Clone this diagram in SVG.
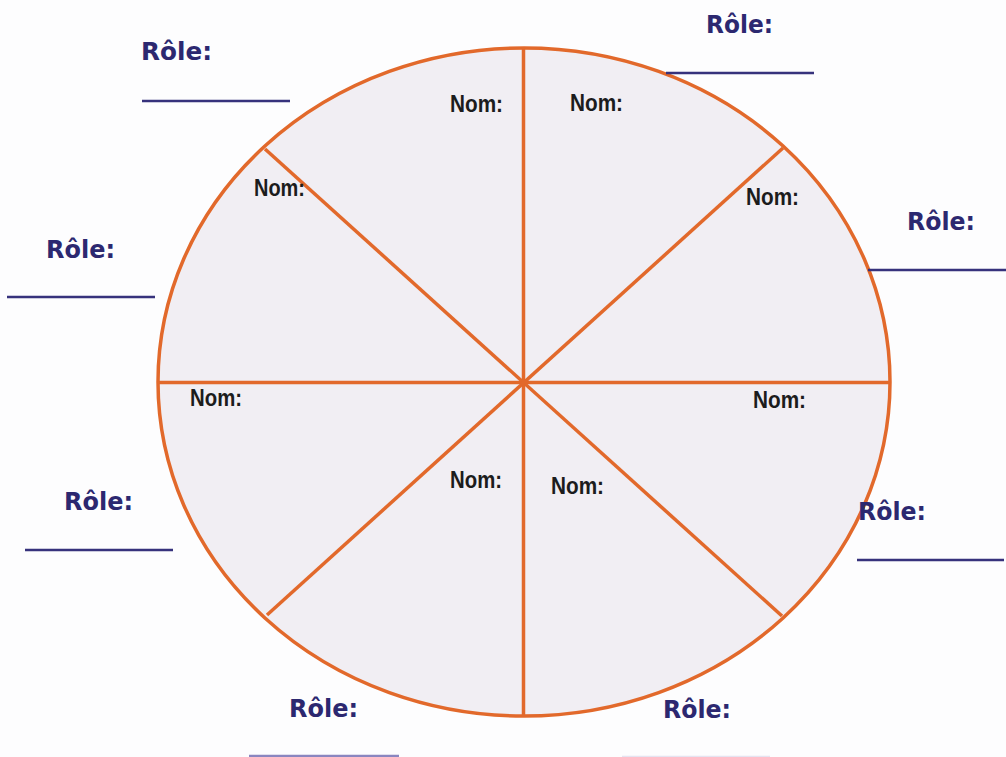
<svg xmlns="http://www.w3.org/2000/svg" width="1006" height="757" viewBox="0 0 1006 757">
  <style>
    .bg { fill: #fdfdfe; }
    .wheel { fill: #f1eef3; stroke: #e2692b; stroke-width: 3.5; }
    .spoke { stroke: #e2692b; stroke-width: 3.5; fill: none; }
    .nom { font-family: "Liberation Sans", Arial, sans-serif; font-weight: bold; font-size: 24px; fill: #1c1c1c; }
    .role { font-family: "DejaVu Sans", "Liberation Sans", sans-serif; font-weight: bold; font-size: 24px; fill: #2c2870; }
    .rline { stroke: #36327c; stroke-width: 2.5; }
    .rline-faint { stroke: #8a86c0; stroke-width: 2.5; }
  </style>
  <rect class="bg" x="0" y="0" width="1006" height="757"/>

  <g id="wheel">
    <ellipse class="wheel" cx="524" cy="382" rx="366" ry="334"/>
  </g>

  <g id="connectors">
    <line class="spoke" x1="523.5" y1="48" x2="523.5" y2="716"/>
    <line class="spoke" x1="158" y1="382.5" x2="890" y2="382.5"/>
    <line class="spoke" x1="265" y1="149" x2="782" y2="616"/>
    <line class="spoke" x1="783" y1="148" x2="267" y2="615"/>
  </g>

  <g id="sector-1"><text class="nom" x="450" y="112" textLength="53" lengthAdjust="spacingAndGlyphs">Nom:</text></g>
  <g id="sector-2"><text class="nom" x="570" y="111" textLength="53" lengthAdjust="spacingAndGlyphs">Nom:</text></g>
  <g id="sector-3"><text class="nom" x="254" y="196" textLength="51" lengthAdjust="spacingAndGlyphs">Nom:</text></g>
  <g id="sector-4"><text class="nom" x="746" y="205" textLength="53" lengthAdjust="spacingAndGlyphs">Nom:</text></g>
  <g id="sector-5"><text class="nom" x="190" y="406" textLength="52" lengthAdjust="spacingAndGlyphs">Nom:</text></g>
  <g id="sector-6"><text class="nom" x="753" y="408" textLength="53" lengthAdjust="spacingAndGlyphs">Nom:</text></g>
  <g id="sector-7"><text class="nom" x="450" y="488" textLength="52" lengthAdjust="spacingAndGlyphs">Nom:</text></g>
  <g id="sector-8"><text class="nom" x="551" y="494" textLength="53" lengthAdjust="spacingAndGlyphs">Nom:</text></g>

  <g id="role-top-left">
    <text class="role" x="141" y="60" textLength="71" lengthAdjust="spacingAndGlyphs">Rôle:</text>
    <line class="rline" x1="142" y1="101" x2="290" y2="101"/>
  </g>
  <g id="role-top-right">
    <text class="role" x="706" y="33" textLength="67" lengthAdjust="spacingAndGlyphs">Rôle:</text>
    <line class="rline" x1="666" y1="73" x2="814" y2="73"/>
  </g>
  <g id="role-right">
    <text class="role" x="907" y="230" textLength="68" lengthAdjust="spacingAndGlyphs">Rôle:</text>
    <line class="rline" x1="868" y1="270" x2="1006" y2="270"/>
  </g>
  <g id="role-left">
    <text class="role" x="46" y="258" textLength="69" lengthAdjust="spacingAndGlyphs">Rôle:</text>
    <line class="rline" x1="7" y1="297" x2="155" y2="297"/>
  </g>
  <g id="role-left-lower">
    <text class="role" x="64" y="510" textLength="69" lengthAdjust="spacingAndGlyphs">Rôle:</text>
    <line class="rline" x1="25" y1="550" x2="173" y2="550"/>
  </g>
  <g id="role-right-lower">
    <text class="role" x="858" y="520" textLength="68" lengthAdjust="spacingAndGlyphs">Rôle:</text>
    <line class="rline" x1="857" y1="560" x2="1004" y2="560"/>
  </g>
  <g id="role-bottom-left">
    <text class="role" x="289" y="717" textLength="69" lengthAdjust="spacingAndGlyphs">Rôle:</text>
    <line class="rline-faint" x1="249" y1="756" x2="399" y2="756"/>
  </g>
  <g id="role-bottom-right">
    <text class="role" x="663" y="718" textLength="68" lengthAdjust="spacingAndGlyphs">Rôle:</text>
    <line class="rline-faint" x1="622" y1="757" x2="770" y2="757" opacity="0.2"/>
  </g>
</svg>
